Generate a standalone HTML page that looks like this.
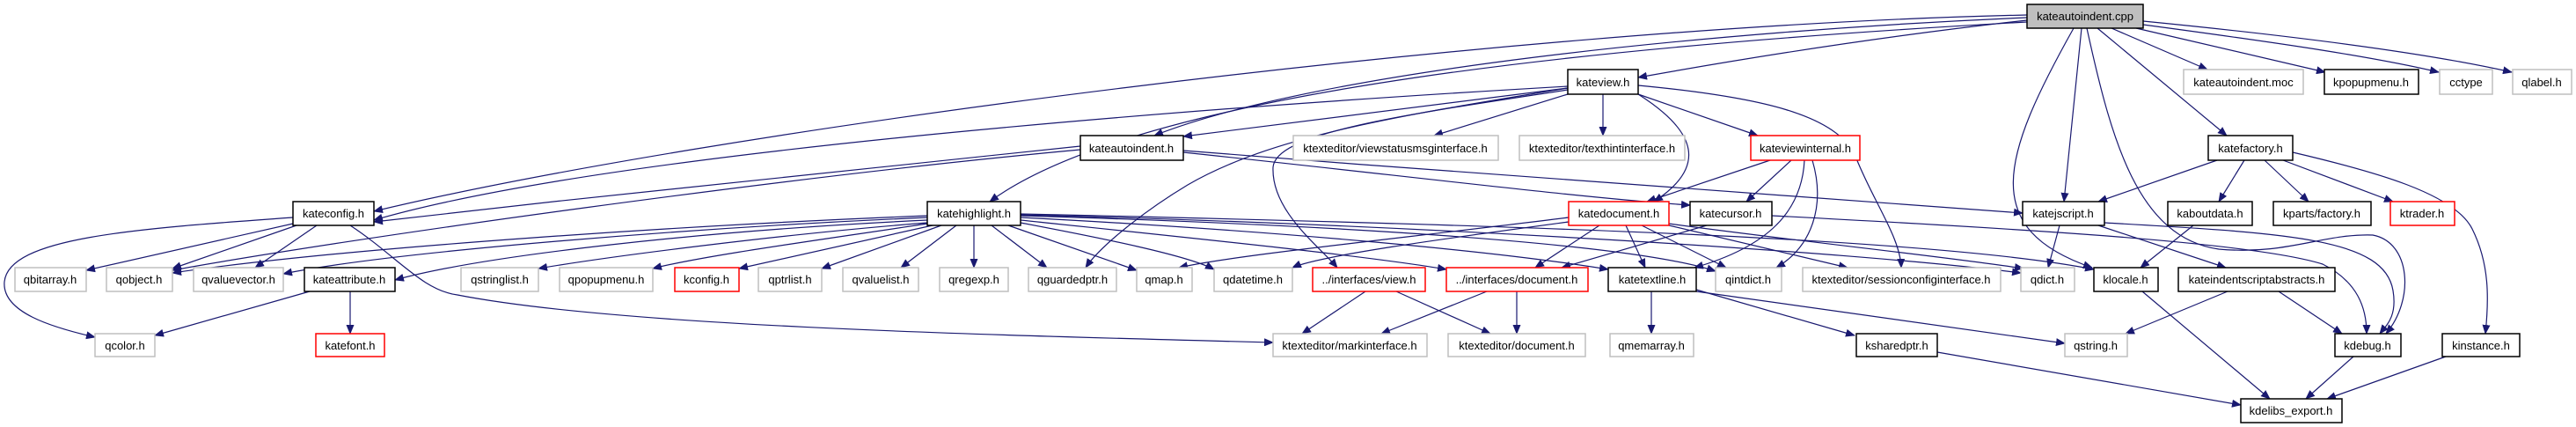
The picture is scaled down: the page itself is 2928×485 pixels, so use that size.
<!DOCTYPE html>
<html><head><meta charset="utf-8"><style>
html,body{margin:0;padding:0;background:#fff;}
svg{display:block;}
text{font-family:"Liberation Sans",sans-serif;font-size:13px;fill:#000;}
.g{fill:#fff;stroke:#bfbfbf;stroke-width:1.5}
.b{fill:#fff;stroke:#000;stroke-width:1.5}
.r{fill:#fff;stroke:#ff0000;stroke-width:1.5}
path.e{fill:none;stroke:#191970;stroke-width:1.2;marker-end:url(#a)}
</style></head><body>
<svg width="2928" height="485" viewBox="0 0 2928 485" xmlns="http://www.w3.org/2000/svg">
<defs><marker id="a" markerUnits="userSpaceOnUse" markerWidth="11" markerHeight="9" refX="10" refY="4.5" orient="auto"><path d="M0,0 L11,4.5 L0,9 z" fill="#191970"/></marker></defs>
<g>
<!-- cpp edges -->
<path class="e" d="M2304,23 C2150,40 1990,65 1862,88"/>
<path class="e" d="M2304,20 C1950,35 1500,80 1312,154"/>
<path class="e" d="M2304,17 C1700,30 800,150 425,240"/>
<path class="e" d="M2304,25 C1850,50 1300,100 1125,229"/>
<path class="e" d="M2366,32 L2346,229"/>
<path class="e" d="M2357,32 C2274,180 2250,260 2378,304"/>
<path class="e" d="M2372,32 C2400,160 2430,270 2522,283 C2600,290 2640,265 2697,267 C2740,275 2745,340 2712,379"/>
<path class="e" d="M2384,32 L2531,154"/>
<path class="e" d="M2400,32 L2509,79"/>
<path class="e" d="M2428,32 L2643,82"/>
<path class="e" d="M2436,28 C2600,50 2700,65 2772,82"/>
<path class="e" d="M2436,24 C2650,45 2780,65 2855,82"/>
<!-- kateview edges -->
<path class="e" d="M1782,98 C1400,120 700,170 425,250"/>
<path class="e" d="M1782,100 L1345,155"/>
<path class="e" d="M1782,100 C1600,130 1448,153 1350,210 C1300,240 1250,280 1234,304"/>
<path class="e" d="M1782,102 C1600,130 1450,150 1447,190 C1445,240 1500,280 1520,304"/>
<path class="e" d="M1782,107 L1630,154"/>
<path class="e" d="M1822,107 L1822,154"/>
<path class="e" d="M1862,107 L1998,154"/>
<path class="e" d="M1862,107 C1930,150 1940,190 1880,229"/>
<path class="e" d="M1862,97 C2000,110 2090,130 2110,180 C2130,230 2160,270 2161,304"/>
<!-- kateautoindent.h -->
<path class="e" d="M1228,166 C1000,190 700,220 425,252"/>
<path class="e" d="M1228,170 C900,200 400,270 196,307"/>
<path class="e" d="M1345,173 C1600,200 1800,225 1921,233"/>
<path class="e" d="M1345,171 C1700,200 2100,225 2299,242"/>
<!-- kateviewinternal -->
<path class="e" d="M2012,182 L1872,229"/>
<path class="e" d="M2036,182 L1985,229"/>
<path class="e" d="M2051,182 C2048,240 2010,280 1926,304"/>
<path class="e" d="M2060,182 C2075,233 2060,280 2019,304"/>
<!-- katedocument -->
<path class="e" d="M1783,247 C1600,270 1400,290 1340,304"/>
<path class="e" d="M1783,252 C1650,270 1500,290 1469,304"/>
<path class="e" d="M1818,256 L1745,304"/>
<path class="e" d="M1848,256 L1870,304"/>
<path class="e" d="M1866,256 L1962,304"/>
<path class="e" d="M1897,256 L2100,304"/>
<path class="e" d="M1897,254 C2050,275 2200,290 2300,305"/>
<!-- katecursor -->
<path class="e" d="M1940,256 L1775,304"/>
<path class="e" d="M2014,245 C2300,260 2560,275 2640,300 C2680,320 2690,350 2690,379"/>
<!-- katehighlight -->
<path class="e" d="M1054,245 C800,255 400,280 196,310"/>
<path class="e" d="M1054,247 C800,258 450,285 322,311"/>
<path class="e" d="M1054,250 C800,262 550,290 449,318"/>
<path class="e" d="M1054,253 C900,265 700,290 612,305"/>
<path class="e" d="M1054,254 C950,270 800,290 742,305"/>
<path class="e" d="M1060,256 L840,305"/>
<path class="e" d="M1070,256 L934,305"/>
<path class="e" d="M1087,256 L1024,304"/>
<path class="e" d="M1107,256 L1107,304"/>
<path class="e" d="M1127,256 L1190,304"/>
<path class="e" d="M1146,256 L1292,307"/>
<path class="e" d="M1160,253 C1250,270 1350,290 1380,306"/>
<path class="e" d="M1160,250 C1350,270 1550,290 1644,306"/>
<path class="e" d="M1160,247 C1450,262 1700,285 1828,306"/>
<path class="e" d="M1160,245 C1500,255 1850,275 1950,308"/>
<path class="e" d="M1160,244 C1600,255 2100,285 2297,310"/>
<path class="e" d="M1160,243 C1700,255 2200,270 2380,306"/>
<!-- kateconfig -->
<path class="e" d="M333,254 L98,307"/>
<path class="e" d="M337,256 L196,305"/>
<path class="e" d="M360,256 L290,304"/>
<path class="e" d="M333,247 C150,260 10,270 5,320 C2,355 60,372 108,383"/>
<path class="e" d="M398,256 C450,290 480,330 520,335 C700,370 1100,380 1447,389"/>
<!-- kateattribute -->
<path class="e" d="M352,331 L176,381"/>
<path class="e" d="M398,331 L398,379"/>
<!-- interfaces -->
<path class="e" d="M1552,331 L1480,379"/>
<path class="e" d="M1587,331 L1694,379"/>
<path class="e" d="M1690,331 L1570,379"/>
<path class="e" d="M1724,331 L1724,379"/>
<!-- katetextline -->
<path class="e" d="M1877,331 L1877,379"/>
<path class="e" d="M1928,329 L2108,381"/>
<path class="e" d="M1928,331 L2347,390"/>
<!-- katejscript -->
<path class="e" d="M2341,256 L2328,304"/>
<path class="e" d="M2385,256 L2530,304"/>
<path class="e" d="M2392,253 C2600,265 2710,270 2720,330 C2725,360 2712,370 2705,379"/>
<!-- katefactory -->
<path class="e" d="M2520,182 L2385,229"/>
<path class="e" d="M2551,182 L2522,229"/>
<path class="e" d="M2574,182 L2624,229"/>
<path class="e" d="M2595,182 L2720,229"/>
<path class="e" d="M2606,173 C2700,195 2790,220 2810,260 C2830,300 2829,340 2825,379"/>
<!-- others -->
<path class="e" d="M2493,256 L2433,304"/>
<path class="e" d="M2435,331 L2580,453"/>
<path class="e" d="M2532,331 L2416,379"/>
<path class="e" d="M2590,331 L2662,379"/>
<path class="e" d="M2675,405 L2621,453"/>
<path class="e" d="M2780,405 L2645,453"/>
<path class="e" d="M2202,400 L2547,460"/>
</g>
<g>
<rect x="2304" y="5" width="132" height="27" fill="#bfbfbf" stroke="#000" stroke-width="1.5"/><text x="2370" y="23" text-anchor="middle">kateautoindent.cpp</text>
<rect class="b" x="1782" y="79" width="80" height="28"/><text x="1822" y="98" text-anchor="middle">kateview.h</text>
<rect class="g" x="2482" y="79" width="136" height="28"/><text x="2550" y="98" text-anchor="middle">kateautoindent.moc</text>
<rect class="b" x="2642" y="79" width="107" height="28"/><text x="2695" y="98" text-anchor="middle">kpopupmenu.h</text>
<rect class="g" x="2773" y="79" width="60" height="28"/><text x="2803" y="98" text-anchor="middle">cctype</text>
<rect class="g" x="2856" y="79" width="67" height="28"/><text x="2889" y="98" text-anchor="middle">qlabel.h</text>
<rect class="b" x="1228" y="154" width="117" height="28"/><text x="1286" y="173" text-anchor="middle">kateautoindent.h</text>
<rect class="g" x="1470" y="154" width="233" height="28"/><text x="1586" y="173" text-anchor="middle">ktexteditor/viewstatusmsginterface.h</text>
<rect class="g" x="1727" y="154" width="188" height="28"/><text x="1821" y="173" text-anchor="middle">ktexteditor/texthintinterface.h</text>
<rect class="r" x="1990" y="154" width="124" height="28"/><text x="2052" y="173" text-anchor="middle">kateviewinternal.h</text>
<rect class="b" x="2510" y="154" width="96" height="28"/><text x="2558" y="173" text-anchor="middle">katefactory.h</text>
<rect class="b" x="333" y="229" width="92" height="27"/><text x="379" y="247" text-anchor="middle">kateconfig.h</text>
<rect class="b" x="1054" y="229" width="106" height="27"/><text x="1107" y="247" text-anchor="middle">katehighlight.h</text>
<rect class="r" x="1783" y="229" width="114" height="27"/><text x="1840" y="247" text-anchor="middle">katedocument.h</text>
<rect class="b" x="1921" y="229" width="93" height="27"/><text x="1967" y="247" text-anchor="middle">katecursor.h</text>
<rect class="b" x="2299" y="229" width="93" height="27"/><text x="2345" y="247" text-anchor="middle">katejscript.h</text>
<rect class="b" x="2464" y="229" width="96" height="27"/><text x="2512" y="247" text-anchor="middle">kaboutdata.h</text>
<rect class="b" x="2584" y="229" width="111" height="27"/><text x="2639" y="247" text-anchor="middle">kparts/factory.h</text>
<rect class="r" x="2717" y="229" width="73" height="27"/><text x="2753" y="247" text-anchor="middle">ktrader.h</text>
<rect class="g" x="17" y="304" width="81" height="27"/><text x="57" y="322" text-anchor="middle">qbitarray.h</text>
<rect class="g" x="121" y="304" width="75" height="27"/><text x="158" y="322" text-anchor="middle">qobject.h</text>
<rect class="g" x="220" y="304" width="102" height="27"/><text x="271" y="322" text-anchor="middle">qvaluevector.h</text>
<rect class="b" x="346" y="304" width="103" height="27"/><text x="397" y="322" text-anchor="middle">kateattribute.h</text>
<rect class="g" x="524" y="304" width="88" height="27"/><text x="568" y="322" text-anchor="middle">qstringlist.h</text>
<rect class="g" x="636" y="304" width="106" height="27"/><text x="689" y="322" text-anchor="middle">qpopupmenu.h</text>
<rect class="r" x="767" y="304" width="73" height="27"/><text x="803" y="322" text-anchor="middle">kconfig.h</text>
<rect class="g" x="862" y="304" width="72" height="27"/><text x="898" y="322" text-anchor="middle">qptrlist.h</text>
<rect class="g" x="958" y="304" width="86" height="27"/><text x="1001" y="322" text-anchor="middle">qvaluelist.h</text>
<rect class="g" x="1068" y="304" width="78" height="27"/><text x="1107" y="322" text-anchor="middle">qregexp.h</text>
<rect class="g" x="1169" y="304" width="100" height="27"/><text x="1219" y="322" text-anchor="middle">qguardedptr.h</text>
<rect class="g" x="1292" y="304" width="63" height="27"/><text x="1323" y="322" text-anchor="middle">qmap.h</text>
<rect class="g" x="1380" y="304" width="89" height="27"/><text x="1424" y="322" text-anchor="middle">qdatetime.h</text>
<rect class="r" x="1492" y="304" width="128" height="27"/><text x="1556" y="322" text-anchor="middle">../interfaces/view.h</text>
<rect class="r" x="1644" y="304" width="161" height="27"/><text x="1724" y="322" text-anchor="middle">../interfaces/document.h</text>
<rect class="b" x="1828" y="304" width="100" height="27"/><text x="1878" y="322" text-anchor="middle">katetextline.h</text>
<rect class="g" x="1950" y="304" width="75" height="27"/><text x="1987" y="322" text-anchor="middle">qintdict.h</text>
<rect class="g" x="2049" y="304" width="225" height="27"/><text x="2161" y="322" text-anchor="middle">ktexteditor/sessionconfiginterface.h</text>
<rect class="g" x="2297" y="304" width="61" height="27"/><text x="2327" y="322" text-anchor="middle">qdict.h</text>
<rect class="b" x="2380" y="304" width="73" height="27"/><text x="2416" y="322" text-anchor="middle">klocale.h</text>
<rect class="b" x="2476" y="304" width="178" height="27"/><text x="2565" y="322" text-anchor="middle">kateindentscriptabstracts.h</text>
<rect class="g" x="108" y="379" width="68" height="26"/><text x="142" y="397" text-anchor="middle">qcolor.h</text>
<rect class="r" x="359" y="379" width="78" height="26"/><text x="398" y="397" text-anchor="middle">katefont.h</text>
<rect class="g" x="1447" y="379" width="175" height="26"/><text x="1534" y="397" text-anchor="middle">ktexteditor/markinterface.h</text>
<rect class="g" x="1646" y="379" width="156" height="26"/><text x="1724" y="397" text-anchor="middle">ktexteditor/document.h</text>
<rect class="g" x="1830" y="379" width="95" height="26"/><text x="1877" y="397" text-anchor="middle">qmemarray.h</text>
<rect class="b" x="2110" y="379" width="92" height="26"/><text x="2156" y="397" text-anchor="middle">ksharedptr.h</text>
<rect class="g" x="2347" y="379" width="71" height="26"/><text x="2382" y="397" text-anchor="middle">qstring.h</text>
<rect class="b" x="2654" y="379" width="75" height="26"/><text x="2691" y="397" text-anchor="middle">kdebug.h</text>
<rect class="b" x="2776" y="379" width="88" height="26"/><text x="2820" y="397" text-anchor="middle">kinstance.h</text>
<rect class="b" x="2547" y="453" width="115" height="27"/><text x="2604" y="471" text-anchor="middle">kdelibs_export.h</text>
</g>
</svg>
</body></html>
